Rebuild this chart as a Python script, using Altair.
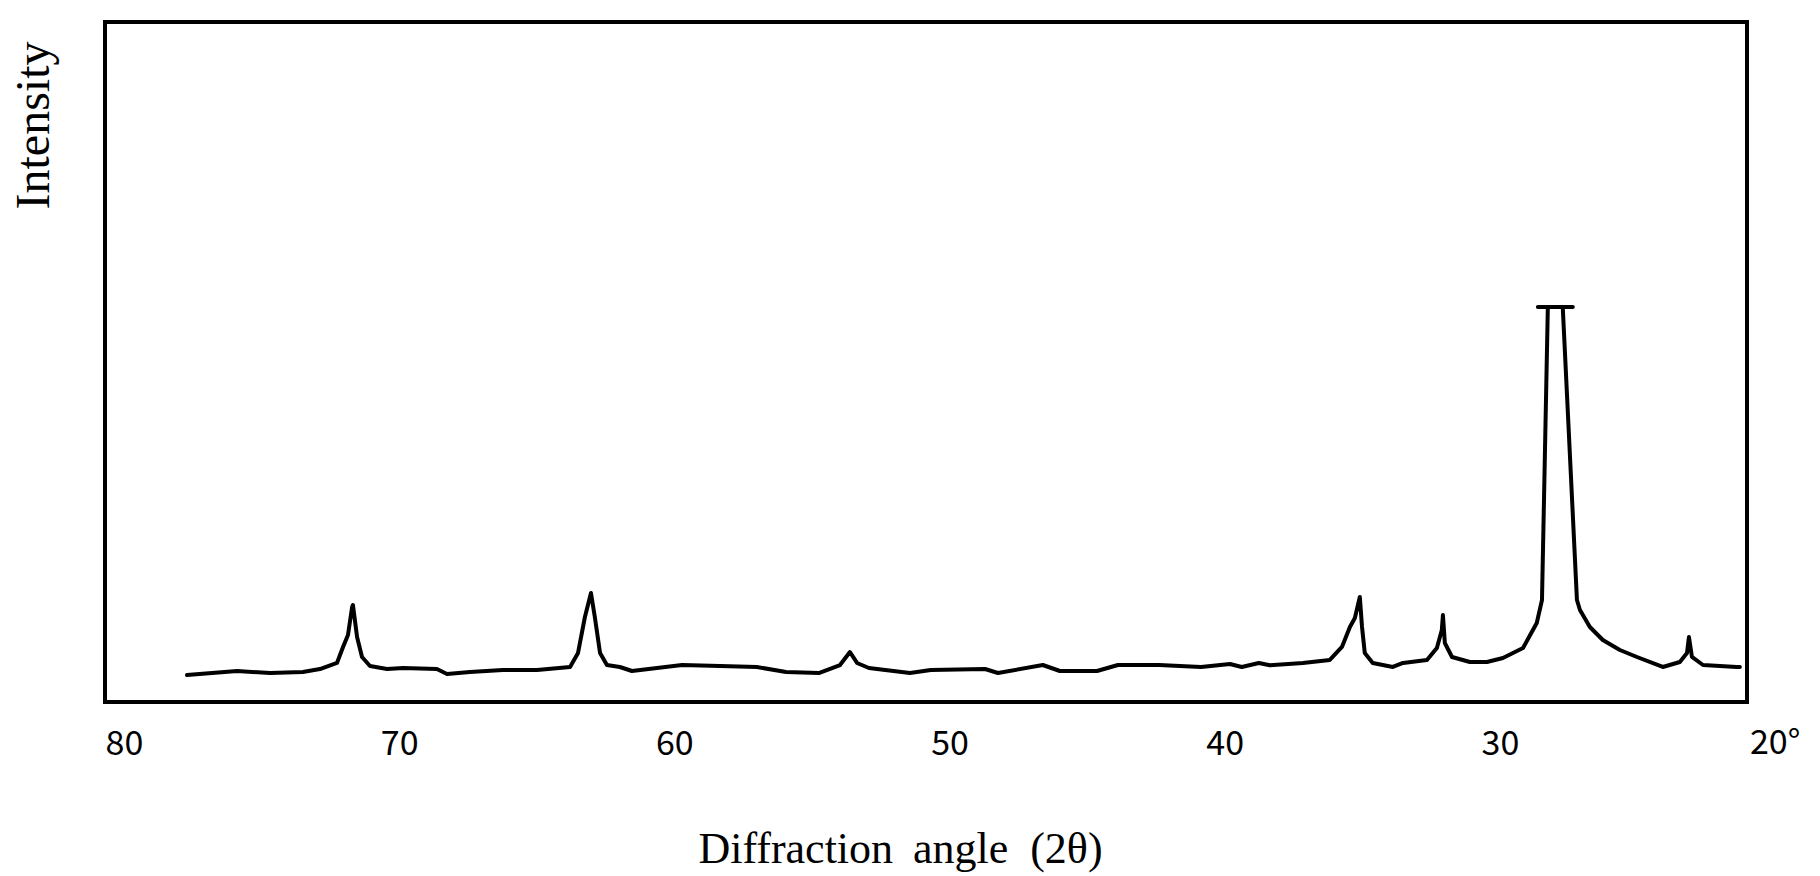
import altair as alt
import pandas as pd

# Diffraction angle 2-theta (degrees) (in drawing order)
two_theta = [77.71, 75.89, 74.69, 73.50, 72.88, 72.26, 72.04, 71.86, 71.71, 71.68,
             71.53, 71.35, 71.06, 70.44, 69.86, 68.63, 68.26, 67.43, 66.23, 64.99,
             63.79, 63.50, 63.25, 63.03, 62.89, 62.70, 62.45, 61.98, 61.54, 59.72,
             58.34, 57.00, 55.94, 54.75, 53.98, 53.62, 53.36, 52.93, 51.44, 50.68,
             48.71, 48.24, 46.61, 45.99, 44.64, 43.88, 42.39, 40.86, 39.81, 39.38,
             38.76, 38.36, 37.16, 36.18, 35.74, 35.45, 35.27, 35.09, 35.01, 34.91,
             34.62, 33.89, 33.52, 32.65, 32.29, 32.11, 32.07, 32.00, 31.74, 31.09,
             30.47, 29.89, 29.16, 28.66, 28.47, 28.26, 28.26, 28.62, 27.35, 27.71,
             27.71, 27.20, 27.09, 26.73, 26.26, 25.64, 25.02, 24.08, 23.46, 23.20,
             23.13, 23.02, 22.62, 21.39, 21.28]

# Relative intensity (0 = bottom of frame, 100 = top of frame)
intensity = [3.97, 4.56, 4.26, 4.41, 4.85, 5.74, 8.09, 9.85, 13.97, 14.26,
             9.56, 6.62, 5.29, 4.85, 5.00, 4.85, 4.12, 4.41, 4.71, 4.71,
             5.15, 7.21, 12.50, 16.03, 12.50, 7.21, 5.44, 5.15, 4.56, 5.44,
             5.29, 5.15, 4.41, 4.26, 5.44, 7.35, 5.74, 5.00, 4.26, 4.71,
             4.85, 4.26, 5.44, 4.56, 4.56, 5.44, 5.44, 5.15, 5.59, 5.15,
             5.74, 5.40, 5.74, 6.18, 8.09, 11.03, 12.35, 15.44, 11.03, 7.21,
             5.74, 5.15, 5.74, 6.18, 7.94, 10.59, 12.79, 8.68, 6.62, 5.88,
             5.88, 6.47, 7.94, 11.62, 15.00, 57.60, 58.10, 58.10, 58.10, 58.10,
             57.60, 15.00, 13.53, 11.03, 9.12, 7.65, 6.62, 5.15, 5.88, 7.21,
             9.56, 6.62, 5.44, 5.15, 5.15]

tick_values = [80, 70, 60, 50, 40, 30, 20]

df = pd.DataFrame({
    "two_theta": two_theta,
    "intensity": intensity,
    "idx": list(range(len(two_theta))),
})
# The last tick (20°) sits just outside the right edge of the frame
edge_tick = pd.DataFrame({"two_theta": tick_values[-1:], "lab": [f"{tick_values[-1]}°"]})

serif = "Liberation Serif"
label_font = "Noto Sans CJK JP"

xscale = alt.Scale(domain=[80.69, 21.02], nice=False, zero=False)
xaxis = alt.Axis(
    values=tick_values[:-1],
    domain=False, ticks=False, tickSize=0, grid=False,
    labelFont=label_font, labelFontSize=34, labelColor="black",
    labelPadding=52, labelBaseline="alphabetic",
    labelFlush=False, labelOverlap=False,
    title="Diffraction\u00a0\u2009angle\u2002(2θ)",
    titleFont=serif, titleFontSize=44, titleFontWeight="normal",
    titleColor="black", titleX=795, titleY=160,
    titleBaseline="alphabetic", titleAlign="center",
)

line = alt.Chart(df).mark_line(
    color="black", strokeWidth=4, strokeJoin="round", strokeCap="round"
).encode(
    x=alt.X("two_theta:Q", scale=xscale, axis=xaxis),
    y=alt.Y(
        "intensity:Q",
        scale=alt.Scale(domain=[0, 100], nice=False, zero=False),
        axis=alt.Axis(
            labels=False, ticks=False, domain=False, grid=False,
            title="Intensity",
            titleFont=serif, titleFontSize=48, titleFontWeight="normal",
            titleColor="black", titleAngle=270, titleX=-57, titleY=103,
            titleAlign="center", titleBaseline="alphabetic",
        ),
    ),
    order="idx:Q",
)

edge_label = alt.Chart(edge_tick).mark_text(
    font=label_font, fontSize=34, color="black",
    baseline="alphabetic", align="center", clip=False,
).encode(
    x=alt.X("two_theta:Q", scale=xscale, axis=xaxis),
    y=alt.value(732),
    text="lab:N",
)

chart = alt.layer(line, edge_label).properties(
    width=1642,
    height=680,
    padding={"left": 105, "top": 22, "right": 73, "bottom": 174},
    autosize="none",
    background="white",
).configure_view(
    stroke="black", strokeWidth=4
)

chart.save("out.html", embed_options={"renderer": "svg", "actions": False})
